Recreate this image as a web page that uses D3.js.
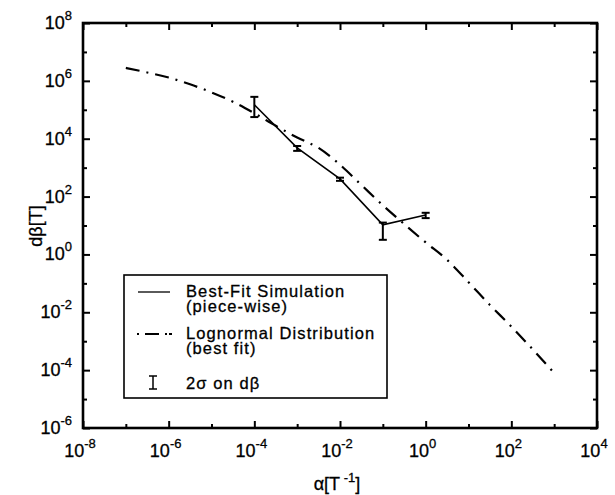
<!DOCTYPE html>
<html><head><meta charset="utf-8">
<script src="https://cdn.jsdelivr.net/npm/d3@7"></script>
<style>
body{margin:0;background:#fff}
svg text{font-family:"Liberation Sans",Arial,Helvetica,sans-serif;fill:#000;stroke:#000;stroke-width:0.3px}
</style>
</head><body><svg id="c" width="615" height="495"></svg>
<script>
// Best-fit simulation (piece-wise)
const simAlpha = [1e-4, 1e-3, 1e-2, 1e-1, 1e0];
const simBeta  = [1.5e5, 4.8e3, 4.1e2, 10.5, 23];
const errLow   = [5.6e4, 3.8e3, 3.5e2, 3.2, 18];
const errHigh  = [2.8e5, 5.6e3, 4.5e2, 12.6, 27.5];
// Lognormal distribution (best fit)
const fitAlpha = [1e-7, 3.16e-7, 1e-6, 3.16e-6, 1e-5, 3.16e-5, 1e-4, 3.16e-4, 1e-3, 3.16e-3, 1e-2,
                  3.16e-2, 1e-1, 3.16e-1, 1e0, 3.16e0, 1e1, 3.16e1, 1e2, 3.16e2, 1e3];
const fitBeta  = [2.8e6, 1.95e6, 1.3e6, 7.6e5, 4.0e5, 1.9e5, 7.6e4, 2.8e4, 1.1e4, 4.8e3, 1.26e3,
                  250, 50, 11.2, 2.6, 0.65, 0.11, 0.018, 3.2e-3, 5.2e-4, 7.9e-5];
// ticks
const xTickExps = [-8, -6, -4, -2, 0, 2, 4];
const xMinorExps = [-7, -5, -3, -1, 1, 3];
const yTickExps = [-6, -4, -2, 0, 2, 4, 6, 8];
const yMinorExps = [-5, -3, -1, 1, 3, 5, 7];
const legendLabels = [["Best-Fit Simulation", "(piece-wise)"], ["Lognormal Distribution", "(best fit)"], ["2\u03C3 on d\u03B2"]];

const svg = d3.select("#c");
const L = 83, R = 597, T = 23, B = 428;
const x = d3.scaleLog().domain([1e-8, 1e4]).range([L, R]);
const y = d3.scaleLog().domain([1e-6, 1e8]).range([B, T]);

function axisDraw(gen, tr, vals, size) {
  const g = svg.append("g").attr("transform", tr)
    .call(gen.tickValues(vals).tickSize(size).tickFormat(""));
  g.select(".domain").remove();
  g.selectAll(".tick line").attr("stroke", "#000").attr("stroke-width", 2);
}
const p = e => Math.pow(10, e);
axisDraw(d3.axisBottom(x), `translate(0,${B})`, xTickExps.map(p), -7);
axisDraw(d3.axisBottom(x), `translate(0,${B})`, xMinorExps.map(p), -4);
axisDraw(d3.axisTop(x), `translate(0,${T})`, xTickExps.map(p), -7);
axisDraw(d3.axisTop(x), `translate(0,${T})`, xMinorExps.map(p), -4);
axisDraw(d3.axisLeft(y), `translate(${L},0)`, yTickExps.map(p), -7);
axisDraw(d3.axisLeft(y), `translate(${L},0)`, yMinorExps.map(p), -4);
axisDraw(d3.axisRight(y), `translate(${R},0)`, yTickExps.map(p), -7);
axisDraw(d3.axisRight(y), `translate(${R},0)`, yMinorExps.map(p), -4);

svg.append("rect").attr("x", L).attr("y", T).attr("width", R - L).attr("height", B - T)
  .attr("fill", "none").attr("stroke", "#000").attr("stroke-width", 2.6);

// tick labels
xTickExps.forEach(e => {
  const t = svg.append("text").attr("x", x(p(e)) - 3).attr("y", 457).attr("text-anchor", "middle")
    .style("font-size", "18px");
  t.append("tspan").text("10");
  t.append("tspan").text(String(e)).attr("dy", -9).style("font-size", "13px");
});
yTickExps.forEach(e => {
  const t = svg.append("text").attr("x", 72).attr("y", y(p(e)) + 6).attr("text-anchor", "end")
    .style("font-size", "18px");
  t.append("tspan").text("10");
  t.append("tspan").text(String(e)).attr("dy", -9).style("font-size", "13px");
});

// axis titles
const xt = svg.append("text").attr("x", 337).attr("y", 490).attr("text-anchor", "middle").style("font-size", "18px");
xt.append("tspan").text("\u03B1[T");
xt.append("tspan").text(" -1").attr("dy", -8).style("font-size", "13px");
xt.append("tspan").text("]").attr("dy", 8);
svg.append("text").attr("transform", "translate(42,226) rotate(-90)").attr("text-anchor", "middle")
  .style("font-size", "18px").text("d\u03B2[T]");

// lognormal fit curve
const fitData = fitAlpha.map((a, i) => [a, fitBeta[i]]);
svg.append("path").datum(fitData)
  .attr("d", d3.line().x(d => x(d[0])).y(d => y(d[1])).curve(d3.curveMonotoneX))
  .attr("fill", "none").attr("stroke", "#000").attr("stroke-width", 2.2).attr("stroke-dasharray", "14,7,2,7");

// simulation line
const simData = simAlpha.map((a, i) => [a, simBeta[i]]);
svg.append("path").datum(simData)
  .attr("d", d3.line().x(d => x(d[0])).y(d => y(d[1])))
  .attr("fill", "none").attr("stroke", "#000").attr("stroke-width", 1.6);

// error bars
const eb = svg.append("g").attr("stroke", "#000").attr("stroke-width", 2);
simAlpha.forEach((a, i) => {
  const cx = x(a), y1 = y(errHigh[i]), y2 = y(errLow[i]);
  eb.append("line").attr("x1", cx).attr("x2", cx).attr("y1", y1).attr("y2", y2);
  eb.append("line").attr("x1", cx - 4).attr("x2", cx + 4).attr("y1", y1).attr("y2", y1);
  eb.append("line").attr("x1", cx - 4).attr("x2", cx + 4).attr("y1", y2).attr("y2", y2);
});

// legend
const lg = svg.append("g");
lg.append("rect").attr("x", 124).attr("y", 275).attr("width", 263).attr("height", 123)
  .attr("fill", "#fff").attr("stroke", "#000").attr("stroke-width", 1.6);
lg.append("line").attr("x1", 138).attr("x2", 170).attr("y1", 292).attr("y2", 292)
  .attr("stroke", "#000").attr("stroke-width", 1.3);
lg.append("line").attr("x1", 137).attr("x2", 172).attr("y1", 334).attr("y2", 334)
  .attr("stroke", "#000").attr("stroke-width", 2.2).attr("stroke-dasharray", "2,6,14,6,2");
const ix = 153;
lg.append("line").attr("x1", ix).attr("x2", ix).attr("y1", 376).attr("y2", 389).attr("stroke", "#000").attr("stroke-width", 1.5);
lg.append("line").attr("x1", ix - 4).attr("x2", ix + 4).attr("y1", 376).attr("y2", 376).attr("stroke", "#000").attr("stroke-width", 1.5);
lg.append("line").attr("x1", ix - 4).attr("x2", ix + 4).attr("y1", 389).attr("y2", 389).attr("stroke", "#000").attr("stroke-width", 1.5);
const ly = [297, 339, 389];
legendLabels.forEach((lines, i) => {
  const t = lg.append("text").attr("x", 186).attr("y", ly[i]).style("font-size", "16.5px")
    .style("letter-spacing", "1.1px");
  lines.forEach((s, j) => {
    t.append("tspan").attr("x", 186).attr("dy", j === 0 ? 0 : 15).text(s);
  });
});
</script></body></html>
